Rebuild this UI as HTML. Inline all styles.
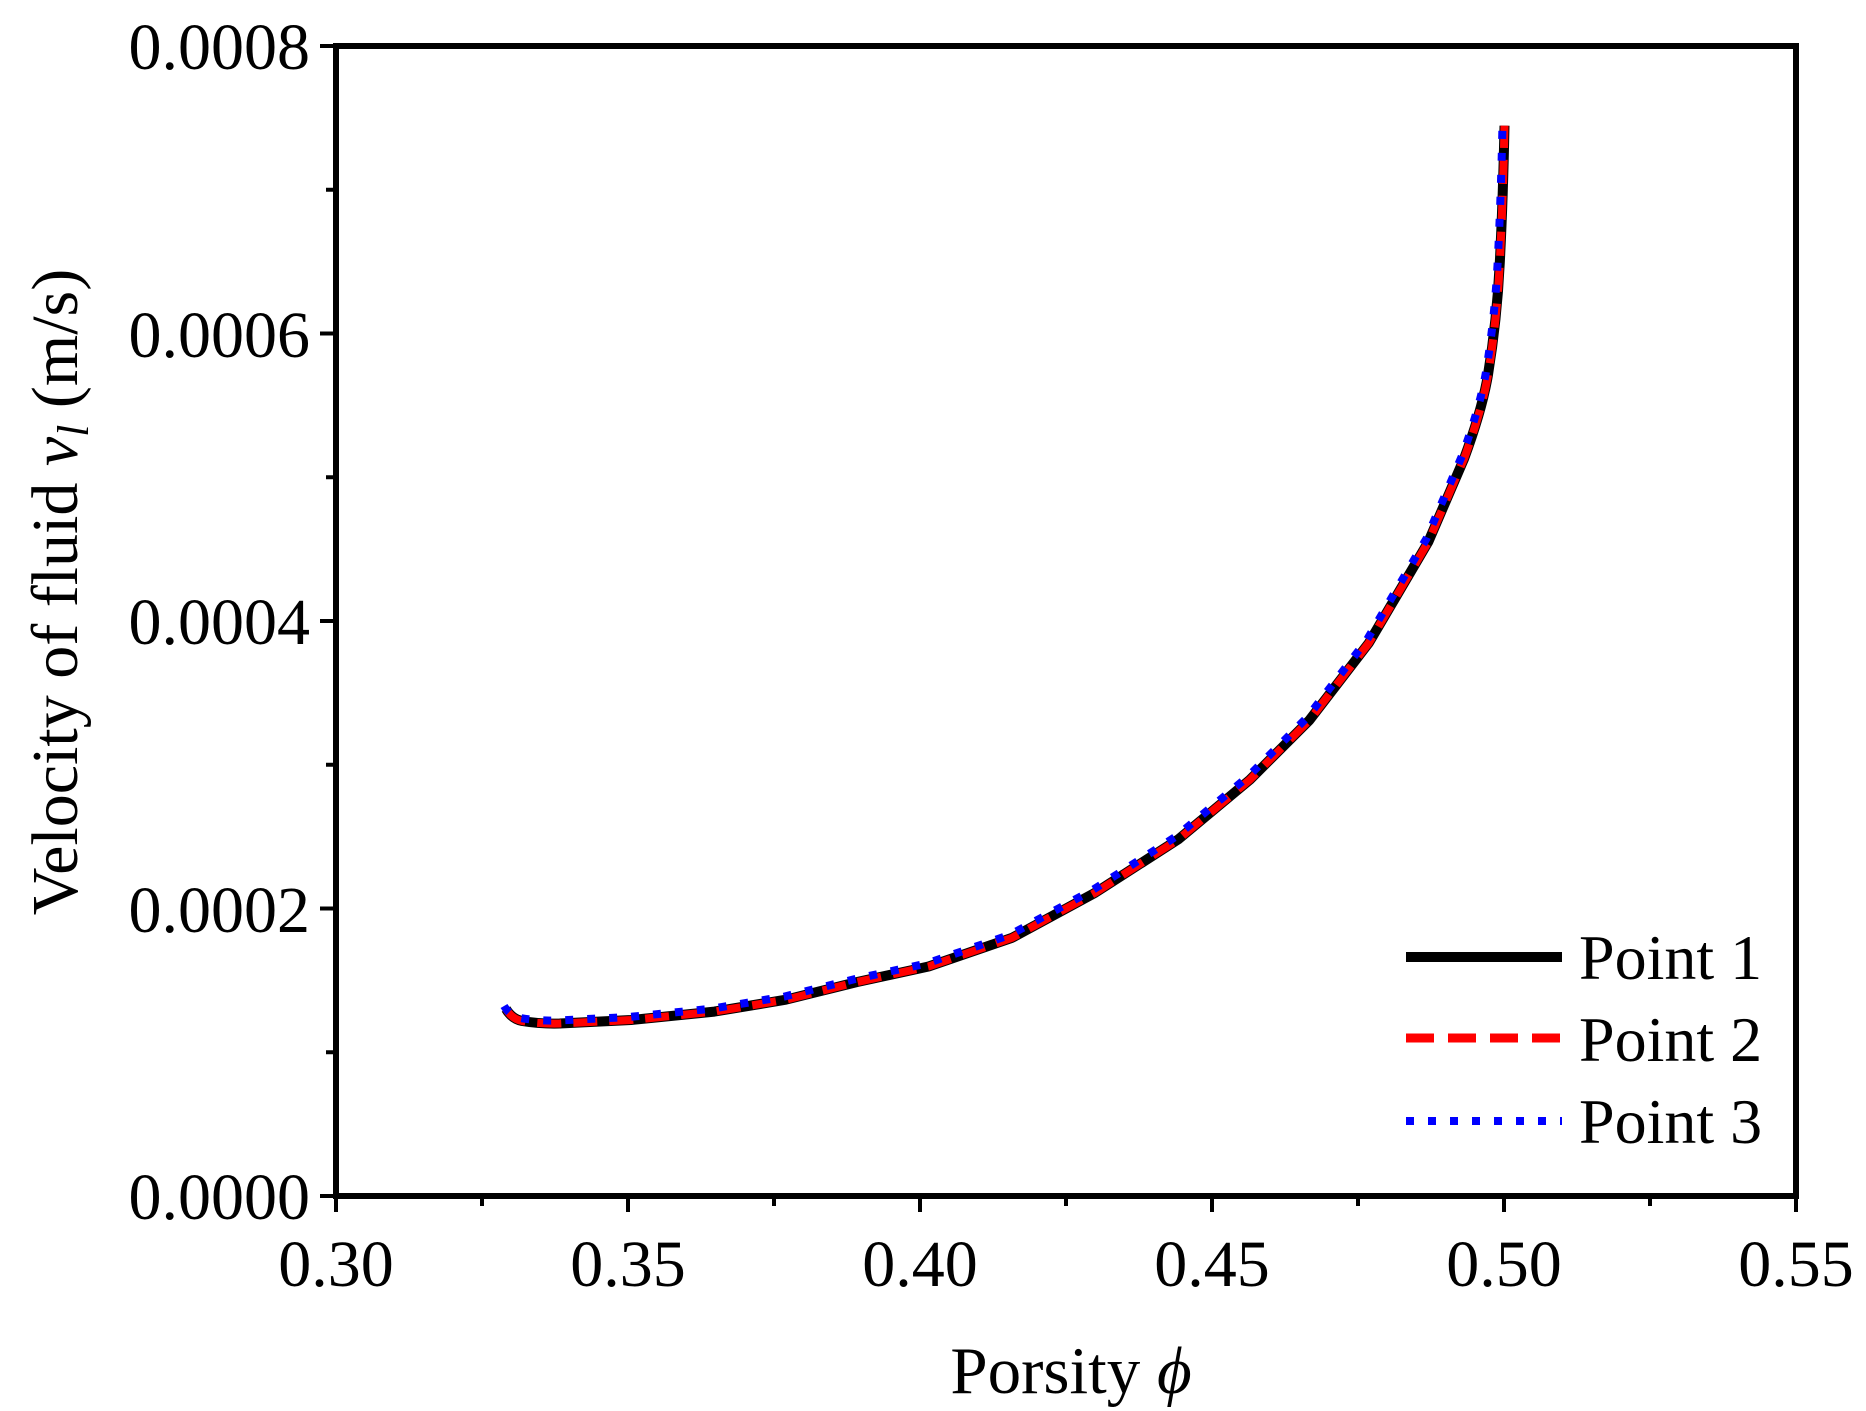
<!DOCTYPE html>
<html><head><meta charset="utf-8"><style>
html,body{margin:0;padding:0;background:#fff;}
svg{display:block;font-family:"Liberation Serif","DejaVu Serif",serif;}
</style></head><body>
<svg width="1866" height="1411" viewBox="0 0 1866 1411" xmlns="http://www.w3.org/2000/svg">
<defs>
<path id="c" d="M506,1009 Q512,1019 522,1021 Q540,1024 559.7,1023.5 L631.1,1020 L714.4,1011.6 L785.8,999.7 L857.2,982 L928.6,966.5 L1011.9,937.9 L1095.2,892.7 L1178.5,839.2 L1249.8,779.8 L1309.3,720.3 L1368.8,643 L1428.3,541.9 L1464.1,458.6 Q1482,410 1487.9,375.4 Q1497,320 1499.8,262.4 Q1503,200 1504.5,125.7"/>
</defs>
<use href="#c" fill="none" stroke="#000" stroke-width="10" stroke-linejoin="round"/>
<use href="#c" fill="none" stroke="#f00" stroke-width="8" stroke-dasharray="24 12" stroke-linejoin="round"/>
<g transform="translate(-2,-3)"><use href="#c" fill="none" stroke="#00f" stroke-width="8" stroke-dasharray="8 14"/></g>
<rect x="336" y="46" width="1460" height="1150" fill="none" stroke="#000" stroke-width="6"/>
<g stroke="#000" stroke-width="4">
<line x1="336" y1="1196" x2="336" y2="1212"/><line x1="628" y1="1196" x2="628" y2="1212"/><line x1="920" y1="1196" x2="920" y2="1212"/><line x1="1212" y1="1196" x2="1212" y2="1212"/><line x1="1504" y1="1196" x2="1504" y2="1212"/><line x1="1796" y1="1196" x2="1796" y2="1212"/>
<line x1="482" y1="1196" x2="482" y2="1206"/><line x1="774" y1="1196" x2="774" y2="1206"/><line x1="1066" y1="1196" x2="1066" y2="1206"/><line x1="1358" y1="1196" x2="1358" y2="1206"/><line x1="1650" y1="1196" x2="1650" y2="1206"/>
<line x1="320" y1="46" x2="336" y2="46"/><line x1="320" y1="333.5" x2="336" y2="333.5"/><line x1="320" y1="621" x2="336" y2="621"/><line x1="320" y1="908.5" x2="336" y2="908.5"/><line x1="320" y1="1196" x2="336" y2="1196"/>
<line x1="326" y1="189.75" x2="336" y2="189.75"/><line x1="326" y1="477.25" x2="336" y2="477.25"/><line x1="326" y1="764.75" x2="336" y2="764.75"/><line x1="326" y1="1052.25" x2="336" y2="1052.25"/>
</g>
<g font-size="66" text-anchor="end">
<text x="310" y="69">0.0008</text><text x="310" y="357">0.0006</text><text x="310" y="644">0.0004</text><text x="310" y="932">0.0002</text><text x="310" y="1219">0.0000</text>
</g>
<g font-size="66" text-anchor="middle">
<text x="336" y="1286">0.30</text><text x="628" y="1286">0.35</text><text x="920" y="1286">0.40</text><text x="1212" y="1286">0.45</text><text x="1504" y="1286">0.50</text><text x="1796" y="1286">0.55</text>
</g>
<text x="1071" y="1393" font-size="67" text-anchor="middle">Porsity <tspan font-style="italic">ϕ</tspan></text>
<text transform="translate(77,592) rotate(-90)" font-size="66" text-anchor="middle">Velocity of fluid <tspan font-style="italic">v</tspan><tspan font-style="italic" font-size="44" dy="11">l</tspan><tspan dy="-11"> (m/s)</tspan></text>
<line x1="1406" y1="957" x2="1562" y2="957" stroke="#000" stroke-width="10"/>
<line x1="1406" y1="1038" x2="1562" y2="1038" stroke="#f00" stroke-width="9" stroke-dasharray="28 14"/>
<line x1="1406" y1="1121" x2="1562" y2="1121" stroke="#00f" stroke-width="8" stroke-dasharray="8 14"/>
<g font-size="64"><text x="1579" y="979">Point 1</text><text x="1579" y="1061">Point 2</text><text x="1579" y="1143">Point 3</text></g>
</svg>
</body></html>
